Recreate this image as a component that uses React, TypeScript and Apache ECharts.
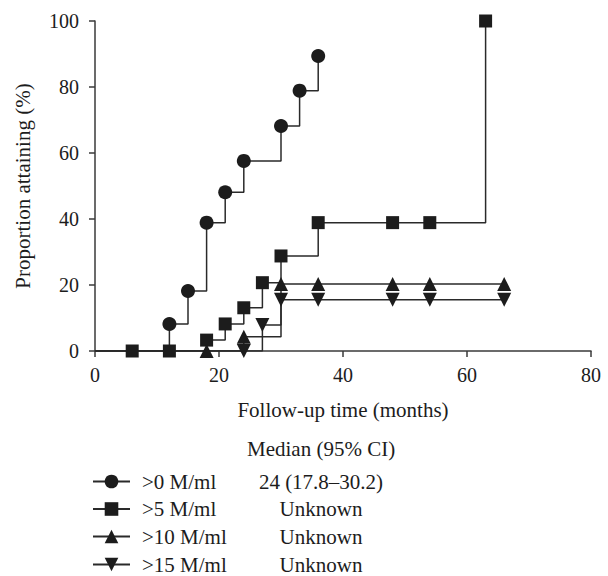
import React, { useEffect, useRef } from "react";
import * as echarts from "echarts";

const seriesNames = [">0 M/ml", ">5 M/ml", ">10 M/ml", ">15 M/ml"];
const medians = ["24 (17.8–30.2)", "Unknown", "Unknown", "Unknown"];
const symbols = ["circle", "rect", "triangle", "triangle"];
const rotations = [0, 0, 0, 180];
const sizes = [14, 13, 14, 14];

const t0 = [0, 12, 15, 18, 21, 24, 30, 33, 36];
const p0 = [0, 8.2, 18.2, 38.9, 48.1, 57.6, 68.2, 78.9, 89.4];
const t5 = [0, 6, 12, 18, 21, 24, 27, 30, 36, 48, 54, 63];
const p5 = [0, 0, 0, 3.3, 8.2, 13.1, 20.7, 28.8, 38.9, 38.9, 38.9, 100];
const t10 = [0, 18, 24, 30, 36, 48, 54, 66];
const p10 = [0, 0, 4.3, 20.3, 20.3, 20.3, 20.3, 20.3];
const t15 = [0, 24, 27, 30, 36, 48, 54, 66];
const p15 = [0, 0, 7.9, 15.5, 15.5, 15.5, 15.5, 15.5];

const xTicks = [0, 20, 40, 60, 80];
const yTicks = [0, 20, 40, 60, 80, 100];

const times = [t0, t5, t10, t15];
const props = [p0, p5, p10, p15];

const FONT = "Liberation Serif";
const INK = "#1c1c1c";

export default function App() {
  const ref = useRef<HTMLDivElement>(null);
  useEffect(() => {
    if (!ref.current) return;
    document.body.style.margin = "0";
    const chart = echarts.init(ref.current, undefined, { renderer: "svg" });
    const rowTops = [471, 498.5, 526, 554];
    const option: any = {
      animation: false,
      backgroundColor: "#ffffff",
      textStyle: { fontFamily: FONT, color: INK },
      grid: { left: 95, right: 17, top: 21, bottom: 225, containLabel: false },
      xAxis: {
        type: "value",
        min: xTicks[0],
        max: xTicks[xTicks.length - 1],
        interval: 20,
        splitLine: { show: false },
        axisLine: { lineStyle: { color: "#3a3a3a", width: 1.5 } },
        axisTick: { show: true, length: 6, lineStyle: { color: "#3a3a3a", width: 1.5 } },
        axisLabel: { fontFamily: FONT, fontSize: 20, color: INK, margin: 14 },
        name: "Follow-up time (months)",
        nameLocation: "middle",
        nameGap: 48,
        nameTextStyle: { fontFamily: FONT, fontSize: 21, color: INK },
      },
      yAxis: {
        type: "value",
        min: yTicks[0],
        max: yTicks[yTicks.length - 1],
        interval: 20,
        splitLine: { show: false },
        axisLine: { show: true, lineStyle: { color: "#3a3a3a", width: 1.5 } },
        axisTick: { show: true, length: 6, lineStyle: { color: "#3a3a3a", width: 1.5 } },
        axisLabel: { fontFamily: FONT, fontSize: 20, color: INK, margin: 16 },
        name: "Proportion attaining (%)",
        nameLocation: "middle",
        nameRotate: 90,
        nameGap: 62,
        nameTextStyle: { fontFamily: FONT, fontSize: 21, color: INK },
      },
      legend: seriesNames.map((n, i) => ({
        data: [n],
        orient: "vertical",
        left: 92,
        top: rowTops[i],
        padding: 0,
        itemWidth: 37,
        itemHeight: 17,
        selectedMode: false,
        formatter: (name: string) => `{a|${name}}{b|${medians[i]}}`,
        textStyle: {
          fontFamily: FONT,
          fontSize: 21,
          color: INK,
          rich: {
            a: { fontFamily: FONT, fontSize: 21, color: INK, width: 109, padding: [0, 0, 0, 7] },
            b: { fontFamily: FONT, fontSize: 21, color: INK, width: 140, align: "center" },
          },
        },
      })),
      graphic: [
        {
          type: "text",
          left: 247,
          top: 438,
          style: { text: "Median (95% CI)", fontFamily: FONT, fontSize: 21, fill: INK },
        },
      ],
      series: seriesNames.map((n, i) => ({
        name: n,
        type: "line",
        step: "end",
        data: times[i].map((t, j) =>
          j === 0 ? { value: [t, props[i][j]], symbol: "none" } : [t, props[i][j]]
        ),
        symbol: symbols[i],
        symbolRotate: rotations[i],
        symbolSize: sizes[i],
        showAllSymbol: true,
        itemStyle: { color: INK, borderWidth: 0 },
        lineStyle: { color: "#2a2a2a", width: 1.5 },
        emphasis: { disabled: true },
      })),
    };
    chart.setOption(option);
    return () => chart.dispose();
  }, []);
  return <div ref={ref} style={{ width: 608, height: 576 }} />;
}
